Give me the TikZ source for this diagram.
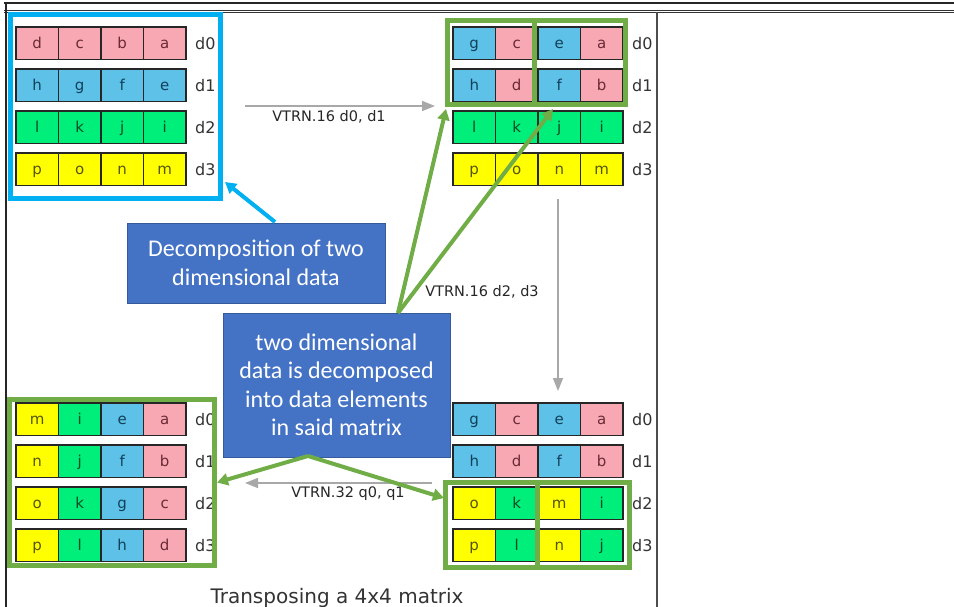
\documentclass[tikz,border=0pt]{standalone}
\usepackage{fontspec}
\setmainfont{DejaVu Sans}
\newfontfamily\callfont{Carlito}
\usetikzlibrary{arrows.meta}
\definecolor{cP}{HTML}{F7A8B3}
\definecolor{cB}{HTML}{5DC1E8}
\definecolor{cG}{HTML}{00EE7A}
\definecolor{cY}{HTML}{FFFF00}
\definecolor{tP}{HTML}{6A2A33}
\definecolor{tB}{HTML}{12405A}
\definecolor{tG}{HTML}{0C4A24}
\definecolor{tY}{HTML}{55550A}
\definecolor{frgreen}{HTML}{70AD47}
\definecolor{frblue}{HTML}{00B0F0}
\definecolor{callblue}{HTML}{4472C4}
\definecolor{arrgray}{HTML}{A8A8A8}
\newcommand{\cellrow}[5]{%
  \foreach \l/\c [count=\i from 0] in {#4}{%
    \node[cell,fill=c\c,text=t\c] (#1-\i) at ({#2+21.25+42.5*\i},{#3+16.25}) {\l};}
  \node[lbl] (#1-lab) at ({#2+179},{#3+16.25}) {#5};}
\begin{document}
\begin{tikzpicture}[x=1pt,y=-1pt,
  cell/.style={draw=black!85,line width=1.3pt,minimum width=42.5pt,minimum height=32.5pt,inner sep=0pt,text height=11pt,text depth=0pt,font=\fontsize{15}{15}\selectfont},
  lbl/.style={anchor=west,inner sep=0pt,text=black!80,font=\fontsize{16}{16}\selectfont},
  gframe/.style={draw=frgreen,line width=5pt,inner sep=0pt},
  bframe/.style={draw=frblue,line width=5pt,inner sep=0pt},
  callout/.style={fill=callblue,draw=callblue!80!black,line width=0.6pt,text=white,align=center,inner sep=0pt,font=\callfont\fontsize{24}{28.5}\selectfont},
  grayarrow/.style={draw=arrgray,line width=1.6pt,-{Triangle[length=13pt,width=10pt]}},
  greenarrow/.style={draw=frgreen,line width=4pt,-{Triangle[length=11pt,width=12pt]}},
  bluearrow/.style={draw=frblue,line width=4pt,-{Triangle[length=11pt,width=12pt]}},
  oplabel/.style={inner sep=0pt,text=black!85,font=\fontsize{14.5}{14.5}\selectfont}]
\useasboundingbox (0,0) rectangle (954,607);
% outer page frame
\draw[line width=1.4pt,black!85] (4,3) -- (954,3);
\draw[line width=0.8pt,black!80] (4,10) -- (954,10);
\draw[line width=0.8pt,black!80] (4,12.5) -- (954,12.5);
\draw[line width=1.4pt,black!85] (6,3) -- (6,607);
\draw[line width=1.4pt,black!70] (657,12.5) -- (657,607);
% matrices
\cellrow{TL0}{16}{27}{d/P,c/P,b/P,a/P}{d0}
\cellrow{TL1}{16}{69}{h/B,g/B,f/B,e/B}{d1}
\cellrow{TL2}{16}{111}{l/G,k/G,j/G,i/G}{d2}
\cellrow{TL3}{16}{153}{p/Y,o/Y,n/Y,m/Y}{d3}
\cellrow{TR0}{453}{27}{g/B,c/P,e/B,a/P}{d0}
\cellrow{TR1}{453}{69}{h/B,d/P,f/B,b/P}{d1}
\cellrow{TR2}{453}{111}{l/G,k/G,j/G,i/G}{d2}
\cellrow{TR3}{453}{153}{p/Y,o/Y,n/Y,m/Y}{d3}
\cellrow{BR0}{453}{403}{g/B,c/P,e/B,a/P}{d0}
\cellrow{BR1}{453}{445}{h/B,d/P,f/B,b/P}{d1}
\cellrow{BR2}{453}{487}{o/Y,k/G,m/Y,i/G}{d2}
\cellrow{BR3}{453}{529}{p/Y,l/G,n/Y,j/G}{d3}
\cellrow{BL0}{16}{403}{m/Y,i/G,e/B,a/P}{d0}
\cellrow{BL1}{16}{445}{n/Y,j/G,f/B,b/P}{d1}
\cellrow{BL2}{16}{487}{o/Y,k/G,g/B,c/P}{d2}
\cellrow{BL3}{16}{529}{p/Y,l/G,h/B,d/P}{d3}
% highlight frames
\node[bframe,minimum width=210pt,minimum height=184pt] (tlframe) at (115,106.5) {};
\node[gframe,minimum width=86.5pt,minimum height=84pt] (trframeL) at (490.75,62.5) {};
\node[gframe,minimum width=91.5pt,minimum height=84pt] (trframeR) at (579.75,62.5) {};
\node[gframe,minimum width=205pt,minimum height=166pt] (blframe) at (112,482.5) {};
\node[gframe,minimum width=92pt,minimum height=85pt] (brframeL) at (491.5,525) {};
\node[gframe,minimum width=92pt,minimum height=85pt] (brframeR) at (583.5,525) {};
% operation arrows
\coordinate (g1s) at (245,106);
\coordinate (g1e) at (435,106);
\coordinate (g2s) at (558,199);
\coordinate (g2e) at (558,391);
\coordinate (g3s) at (432,483);
\coordinate (g3e) at (245,483);
\draw[grayarrow] (g1s) -- (g1e);
\draw[grayarrow] (g2s) -- (g2e);
\draw[grayarrow] (g3s) -- (g3e);
\node[oplabel] (op1) at (329,117) {VTRN.16 d0, d1};
\node[oplabel] (op2) at (482,292) {VTRN.16 d2, d3};
\node[oplabel] (op3) at (348,494) {VTRN.32 q0, q1};
% callouts
\node[callout,minimum width=258pt,minimum height=80pt] (c1) at (256,263) {Decomposition of two\\dimensional data};
\node[callout,minimum width=227pt,minimum height=144pt] (c2) at (336.5,385) {two dimensional\\data is decomposed\\into data elements\\in said matrix};
% callout pointers
\coordinate (b1s) at (275,222);
\coordinate (b1e) at (225,182);
\draw[bluearrow] (b1s) -- (b1e);
\coordinate (u0) at (398,313);
\coordinate (u1) at (446,109);
\coordinate (u2) at (553,109);
\draw[greenarrow] (u0) -- (u1);
\draw[greenarrow] (u0) -- (u2);
\coordinate (d0) at (308,456);
\coordinate (d2) at (444,498);
\draw[greenarrow] (d0) -- (blframe.east);
\draw[greenarrow] (d0) -- (d2);
% caption
\node[anchor=base,inner sep=0pt,text=black!80,font=\fontsize{20}{20}\selectfont] (title) at (337,603) {Transposing a 4x4 matrix};
\end{tikzpicture}
\end{document}
